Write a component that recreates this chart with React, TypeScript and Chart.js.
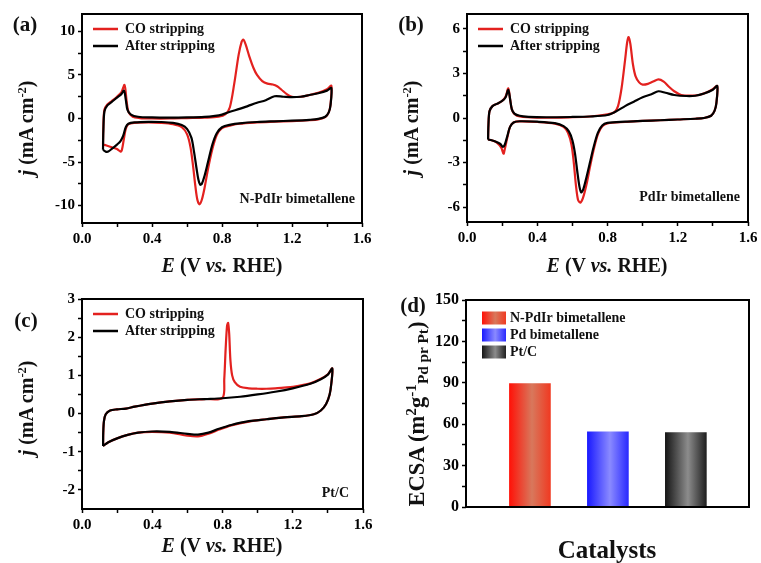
import React, { useEffect, useRef } from 'react';
import { Chart, registerables } from 'chart.js';

Chart.register(...registerables);

type Pt = [number, number];

const FONT = "'Liberation Serif', 'Times New Roman', Times, serif";
const RED = '#e3211f';
const BLACK = '#000000';

const seriesNames = ['CO stripping', 'After stripping'];

// ---------- (a) N-PdIr bimetallene ----------
const aCO: Pt[] = [
  [0.12, -3.0], [0.122, -1.0], [0.128, 1.0], [0.145, 1.6], [0.17, 2.0], [0.2, 2.5], [0.225, 3.0], [0.243, 3.85],
  [0.255, 2.0], [0.265, 0.8], [0.29, 0.2], [0.33, 0.05], [0.4, 0.0], [0.5, 0.0], [0.6, 0.05], [0.7, 0.1],
  [0.78, 0.2], [0.82, 0.5], [0.845, 1.3], [0.87, 4.0], [0.895, 7.3], [0.912, 8.8], [0.922, 9.05], [0.935, 8.5],
  [0.955, 7.2], [0.98, 5.8], [1.0, 5.0], [1.03, 4.3], [1.06, 4.0], [1.09, 3.9], [1.115, 3.7], [1.14, 3.3],
  [1.17, 2.8], [1.2, 2.5], [1.25, 2.5], [1.3, 2.7], [1.35, 2.95], [1.4, 3.35], [1.425, 3.75],
  [1.42, 1.6], [1.41, 0.7], [1.39, 0.15], [1.35, -0.1], [1.3, -0.2], [1.2, -0.3], [1.1, -0.35], [1.0, -0.45],
  [0.9, -0.6], [0.85, -0.8], [0.8, -1.1], [0.77, -1.9], [0.745, -3.5], [0.72, -5.8], [0.7, -8.0], [0.685, -9.3],
  [0.672, -9.85], [0.66, -9.4], [0.648, -7.8], [0.635, -5.5], [0.62, -3.3], [0.6, -1.8], [0.57, -1.0],
  [0.52, -0.65], [0.45, -0.5], [0.38, -0.45], [0.3, -0.5], [0.265, -0.65], [0.25, -1.2], [0.238, -2.5],
  [0.228, -3.6], [0.22, -3.8], [0.2, -3.5], [0.17, -3.3], [0.14, -3.1], [0.12, -3.0],
];
const aAfter: Pt[] = [
  [0.12, -3.6], [0.122, -1.5], [0.128, 0.8], [0.145, 1.5], [0.17, 1.9], [0.2, 2.4], [0.225, 2.8], [0.24, 3.2],
  [0.25, 2.2], [0.26, 1.0], [0.28, 0.45], [0.32, 0.2], [0.4, 0.12], [0.5, 0.1], [0.6, 0.12], [0.7, 0.18],
  [0.76, 0.3], [0.8, 0.45], [0.85, 0.8], [0.9, 1.1], [0.95, 1.45], [1.0, 1.8], [1.05, 2.1], [1.1, 2.55],
  [1.15, 2.5], [1.2, 2.45], [1.25, 2.5], [1.3, 2.7], [1.35, 2.9], [1.4, 3.2], [1.425, 3.5],
  [1.42, 1.5], [1.41, 0.7], [1.39, 0.2], [1.35, -0.05], [1.3, -0.15], [1.2, -0.25], [1.1, -0.32], [1.0, -0.4],
  [0.9, -0.55], [0.85, -0.7], [0.8, -1.0], [0.77, -1.7], [0.745, -3.0], [0.72, -5.0], [0.7, -6.6], [0.685, -7.5],
  [0.675, -7.6], [0.665, -7.0], [0.655, -5.8], [0.64, -3.8], [0.625, -2.2], [0.6, -1.2], [0.57, -0.75],
  [0.52, -0.5], [0.45, -0.4], [0.38, -0.38], [0.3, -0.45], [0.265, -0.6], [0.25, -1.0], [0.235, -2.0],
  [0.22, -2.6], [0.2, -3.0], [0.175, -3.4], [0.15, -3.8], [0.135, -3.8], [0.12, -3.6],
];

// ---------- (b) PdIr bimetallene ----------
const bCO: Pt[] = [
  [0.12, -1.45], [0.122, -0.5], [0.128, 0.45], [0.145, 0.8], [0.17, 0.95], [0.2, 1.15], [0.22, 1.45], [0.235, 2.0],
  [0.245, 1.3], [0.255, 0.6], [0.27, 0.28], [0.3, 0.1], [0.4, 0.02], [0.6, 0.05], [0.7, 0.1], [0.8, 0.25],
  [0.84, 0.4], [0.86, 0.8], [0.88, 2.0], [0.9, 3.9], [0.912, 5.1], [0.92, 5.45], [0.93, 5.0], [0.945, 3.6],
  [0.96, 2.8], [0.98, 2.4], [1.0, 2.25], [1.03, 2.3], [1.06, 2.45], [1.09, 2.6], [1.12, 2.45], [1.15, 2.1],
  [1.18, 1.8], [1.22, 1.55], [1.27, 1.5], [1.32, 1.55], [1.37, 1.75], [1.4, 1.95], [1.425, 2.15],
  [1.42, 1.0], [1.41, 0.5], [1.39, 0.15], [1.35, 0.0], [1.3, -0.05], [1.2, -0.1], [1.1, -0.15], [1.0, -0.2],
  [0.9, -0.27], [0.8, -0.36], [0.77, -0.55], [0.745, -1.1], [0.72, -2.2], [0.7, -3.3], [0.68, -4.5], [0.66, -5.4],
  [0.645, -5.7], [0.632, -5.5], [0.62, -4.5], [0.608, -3.0], [0.595, -1.8], [0.575, -1.0], [0.55, -0.6],
  [0.5, -0.38], [0.4, -0.27], [0.3, -0.23], [0.265, -0.3], [0.245, -0.6], [0.23, -1.3], [0.215, -2.1],
  [0.208, -2.4], [0.195, -2.0], [0.17, -1.65], [0.14, -1.5], [0.12, -1.45],
];
const bAfter: Pt[] = [
  [0.12, -1.45], [0.122, -0.5], [0.128, 0.45], [0.145, 0.8], [0.17, 0.95], [0.2, 1.15], [0.22, 1.4], [0.235, 1.9],
  [0.245, 1.3], [0.255, 0.6], [0.27, 0.3], [0.3, 0.15], [0.35, 0.08], [0.45, 0.05], [0.6, 0.07], [0.7, 0.1],
  [0.8, 0.2], [0.85, 0.45], [0.9, 0.8], [0.95, 1.1], [1.0, 1.4], [1.05, 1.6], [1.09, 1.8], [1.13, 1.7],
  [1.18, 1.55], [1.25, 1.48], [1.3, 1.5], [1.35, 1.65], [1.4, 1.9], [1.425, 2.15],
  [1.42, 1.0], [1.41, 0.5], [1.39, 0.15], [1.35, 0.0], [1.3, -0.05], [1.2, -0.1], [1.1, -0.15], [1.0, -0.2],
  [0.9, -0.25], [0.8, -0.33], [0.77, -0.5], [0.745, -1.0], [0.72, -2.0], [0.7, -3.0], [0.68, -4.0], [0.662, -4.8],
  [0.65, -5.0], [0.64, -4.6], [0.628, -3.6], [0.615, -2.4], [0.6, -1.5], [0.58, -0.9], [0.55, -0.55],
  [0.5, -0.35], [0.4, -0.25], [0.3, -0.22], [0.265, -0.3], [0.245, -0.6], [0.23, -1.2], [0.215, -1.8],
  [0.205, -1.95], [0.19, -1.75], [0.165, -1.6], [0.14, -1.5], [0.12, -1.45],
];

// ---------- (c) Pt/C ----------
const cCO: Pt[] = [
  [0.12, -0.85], [0.121, -0.5], [0.125, -0.2], [0.135, -0.02], [0.16, 0.08], [0.2, 0.11], [0.25, 0.13],
  [0.3, 0.18], [0.4, 0.26], [0.5, 0.32], [0.6, 0.36], [0.7, 0.38], [0.8, 0.41], [0.81, 0.9], [0.818, 1.7],
  [0.826, 2.3], [0.832, 2.37], [0.838, 2.1], [0.845, 1.4], [0.855, 1.0], [0.87, 0.82], [0.9, 0.7], [0.95, 0.66],
  [1.0, 0.65], [1.05, 0.65], [1.1, 0.66], [1.15, 0.68], [1.2, 0.7], [1.3, 0.79], [1.36, 0.91], [1.4, 1.03],
  [1.425, 1.18],
  [1.42, 0.8], [1.41, 0.5], [1.39, 0.25], [1.36, 0.08], [1.32, -0.02], [1.25, -0.07], [1.15, -0.1],
  [1.05, -0.15], [0.95, -0.21], [0.85, -0.31], [0.78, -0.42], [0.72, -0.53], [0.66, -0.6], [0.6, -0.58],
  [0.5, -0.5], [0.4, -0.48], [0.32, -0.5], [0.26, -0.56], [0.2, -0.65], [0.15, -0.75], [0.12, -0.85],
];
const cAfter: Pt[] = [
  [0.12, -0.85], [0.121, -0.5], [0.125, -0.2], [0.135, -0.02], [0.16, 0.08], [0.2, 0.11], [0.25, 0.13],
  [0.3, 0.18], [0.4, 0.26], [0.5, 0.32], [0.6, 0.36], [0.7, 0.38], [0.8, 0.4], [0.9, 0.44], [1.0, 0.5],
  [1.1, 0.57], [1.2, 0.66], [1.3, 0.78], [1.36, 0.9], [1.4, 1.02], [1.425, 1.18],
  [1.42, 0.8], [1.41, 0.5], [1.39, 0.25], [1.36, 0.08], [1.32, -0.02], [1.25, -0.07], [1.15, -0.1],
  [1.05, -0.15], [0.95, -0.2], [0.85, -0.3], [0.78, -0.4], [0.72, -0.5], [0.66, -0.55], [0.6, -0.53],
  [0.5, -0.48], [0.4, -0.47], [0.32, -0.5], [0.26, -0.56], [0.2, -0.65], [0.15, -0.75], [0.12, -0.85],
];

// ---------- ticks ----------
const xTickValues = [0, 0.2, 0.4, 0.6, 0.8, 1.0, 1.2, 1.4, 1.6];
const xTickLabels = [0, 0.4, 0.8, 1.2, 1.6];
const aYTickValues = [-10, -7.5, -5, -2.5, 0, 2.5, 5, 7.5, 10];
const aYTickLabels = [-10, -5, 0, 5, 10];
const bYTickValues = [-6, -4.5, -3, -1.5, 0, 1.5, 3, 4.5, 6];
const bYTickLabels = [-6, -3, 0, 3, 6];
const cYTickValues = [-2, -1.5, -1, -0.5, 0, 0.5, 1, 1.5, 2, 2.5, 3];
const cYTickLabels = [-2, -1, 0, 1, 2, 3];
const dYTickValues = [0, 15, 30, 45, 60, 75, 90, 105, 120, 135, 150];
const dYTickLabels = [0, 30, 60, 90, 120, 150];

// ---------- (d) ECSA ----------
const catalysts = ['N-PdIr bimetallene', 'Pd bimetallene', 'Pt/C'];
const catPositions = [1, 2, 3];
const ecsaValues = [89.5, 54.5, 54];
const barStops: [number, string][][] = [
  [[0, '#ff1208'], [0.55, '#d8785c'], [1, '#f03a22']],
  [[0, '#1a1aff'], [0.55, '#8a8aff'], [1, '#2a2aff']],
  [[0, '#161616'], [0.55, '#8c8c8c'], [1, '#202020']],
];
const barFallback = ['#e8402a', '#5050ff', '#505050'];

const decorPlugin = {
  id: 'decor',
  afterDraw(chart: any, _args: any, o: any) {
    const { ctx, chartArea: a } = chart;
    if (!a) return;
    ctx.save();
    ctx.font = `bold ${o.fontSize || 14}px ${FONT}`;
    ctx.textBaseline = 'middle';
    ctx.textAlign = 'left';
    (o.items || []).forEach((it: any, i: number) => {
      const y = a.top + o.y0 + i * o.dy;
      if (it.stops) {
        const x0 = a.left + o.lx0;
        const w = o.lx1 - o.lx0;
        const h = 13;
        const g = ctx.createLinearGradient(x0, 0, x0 + w, 0);
        it.stops.forEach((s: [number, string]) => g.addColorStop(s[0], s[1]));
        ctx.fillStyle = g;
        ctx.fillRect(x0, y - h / 2, w, h);
      } else {
        ctx.strokeStyle = it.color;
        ctx.lineWidth = 2.5;
        ctx.beginPath();
        ctx.moveTo(a.left + o.lx0, y);
        ctx.lineTo(a.left + o.lx1, y);
        ctx.stroke();
      }
      ctx.fillStyle = '#111';
      ctx.fillText(it.text, a.left + o.tx, y);
    });
    if (o.note) {
      ctx.fillStyle = '#111';
      ctx.textAlign = 'right';
      ctx.fillText(o.note, a.right - o.noteDx, a.bottom - o.noteDy);
    }
    ctx.strokeStyle = '#000';
    ctx.lineWidth = 2;
    ctx.strokeRect(a.left, a.top, a.right - a.left, a.bottom - a.top);
    ctx.restore();
  },
};

const tickFont = (size: number) => ({ family: FONT, size, weight: 'bold' as const });
const gridOpts = {
  display: true,
  drawOnChartArea: false,
  drawTicks: true,
  tickLength: 4,
  tickWidth: 1.5,
  tickColor: '#000',
};

interface CvParams {
  co: Pt[];
  after: Pt[];
  yMin: number;
  yMax: number;
  yTicks: number[];
  yLabels: number[];
  pad: { left: number; top: number; right: number; bottom: number };
  yW: number;
  xH: number;
  note: string;
  noteDx: number;
  noteDy: number;
}

function makeCv(canvas: HTMLCanvasElement, p: CvParams) {
  return new Chart(canvas, {
    type: 'scatter',
    data: {
      datasets: [
        {
          label: seriesNames[0],
          data: p.co.map(([x, y]) => ({ x, y })),
          showLine: true,
          borderColor: RED,
          backgroundColor: RED,
          borderWidth: 2.2,
          pointRadius: 0,
          tension: 0.3,
          order: 2,
        },
        {
          label: seriesNames[1],
          data: p.after.map(([x, y]) => ({ x, y })),
          showLine: true,
          borderColor: BLACK,
          backgroundColor: BLACK,
          borderWidth: 2.2,
          pointRadius: 0,
          tension: 0.3,
          order: 1,
        },
      ],
    },
    options: {
      responsive: false,
      animation: false,
      layout: { padding: p.pad },
      plugins: {
        legend: { display: false },
        tooltip: { enabled: false },
        decor: {
          items: [
            { text: seriesNames[0], color: RED },
            { text: seriesNames[1], color: BLACK },
          ],
          y0: 15,
          dy: 17,
          lx0: 11,
          lx1: 36,
          tx: 43,
          note: p.note,
          noteDx: p.noteDx,
          noteDy: p.noteDy,
        },
      },
      scales: {
        x: {
          type: 'linear',
          min: 0,
          max: 1.6,
          bounds: 'data',
          afterBuildTicks: (s: any) => {
            s.ticks = xTickValues.map((v) => ({ value: v }));
          },
          afterFit: (s: any) => {
            s.height = p.xH;
          },
          ticks: {
            font: tickFont(15),
            color: '#000',
            padding: 3,
            maxRotation: 0,
            autoSkip: false,
            callback: (v: any) => (xTickLabels.includes(v) ? Number(v).toFixed(1) : ''),
          },
          grid: gridOpts,
          border: { display: false },
        },
        y: {
          type: 'linear',
          min: p.yMin,
          max: p.yMax,
          bounds: 'data',
          afterBuildTicks: (s: any) => {
            s.ticks = p.yTicks.map((v) => ({ value: v }));
          },
          afterFit: (s: any) => {
            s.width = p.yW;
          },
          ticks: {
            font: tickFont(15),
            color: '#000',
            padding: 3,
            autoSkip: false,
            callback: (v: any) => (p.yLabels.includes(v) ? String(v) : ''),
          },
          grid: gridOpts,
          border: { display: false },
        },
      },
    },
    plugins: [decorPlugin],
  } as any);
}

function makeBar(canvas: HTMLCanvasElement) {
  const halfW = 20.5;
  return new Chart(canvas, {
    type: 'bar',
    data: {
      datasets: [
        {
          label: 'ECSA',
          data: catPositions.map((x, i) => ({ x, y: ecsaValues[i] })),
          barThickness: 41,
          backgroundColor: (c: any) => {
            const i = c.dataIndex;
            if (typeof i !== 'number') return barFallback[0];
            const chart = c.chart;
            const xs = chart.scales && chart.scales.x;
            if (!xs) return barFallback[i];
            const cx = xs.getPixelForValue(catPositions[i]);
            if (!Number.isFinite(cx)) return barFallback[i];
            const g = chart.ctx.createLinearGradient(cx - halfW, 0, cx + halfW, 0);
            barStops[i].forEach((s) => g.addColorStop(s[0], s[1]));
            return g;
          },
          borderWidth: 0,
        },
      ],
    },
    options: {
      responsive: false,
      animation: false,
      layout: { padding: { left: 0, top: 20, right: 12, bottom: 0 } },
      plugins: {
        legend: { display: false },
        tooltip: { enabled: false },
        decor: {
          items: catalysts.map((t, i) => ({ text: t, stops: barStops[i] })),
          y0: 18,
          dy: 17,
          lx0: 16,
          lx1: 40,
          tx: 44,
          note: '',
        },
      },
      scales: {
        x: {
          type: 'linear',
          min: 0.18,
          max: 3.81,
          bounds: 'data',
          offset: false,
          afterFit: (s: any) => {
            s.height = 56;
          },
          ticks: { display: false },
          grid: { display: false, drawTicks: false, offset: false },
          border: { display: false },
        },
        y: {
          type: 'linear',
          min: 0,
          max: 150,
          bounds: 'data',
          afterBuildTicks: (s: any) => {
            s.ticks = dYTickValues.map((v) => ({ value: v }));
          },
          afterFit: (s: any) => {
            s.width = 86;
          },
          ticks: {
            font: tickFont(16),
            color: '#000',
            padding: 3,
            autoSkip: false,
            callback: (v: any) => (dYTickLabels.includes(v) ? String(v) : ''),
          },
          grid: gridOpts,
          border: { display: false },
        },
      },
    },
    plugins: [decorPlugin],
  } as any);
}

function CvPanel({ left, top, width, height, params }: { left: number; top: number; width: number; height: number; params: CvParams }) {
  const ref = useRef<HTMLCanvasElement>(null);
  useEffect(() => {
    const chart = makeCv(ref.current as HTMLCanvasElement, params);
    return () => chart.destroy();
  }, []);
  return <canvas ref={ref} width={width} height={height} style={{ position: 'absolute', left, top, width, height }} />;
}

function BarPanel({ left, top, width, height }: { left: number; top: number; width: number; height: number }) {
  const ref = useRef<HTMLCanvasElement>(null);
  useEffect(() => {
    const chart = makeBar(ref.current as HTMLCanvasElement);
    return () => chart.destroy();
  }, []);
  return <canvas ref={ref} width={width} height={height} style={{ position: 'absolute', left, top, width, height }} />;
}

function Label({ x, y, size, rotate, children }: { x: number; y: number; size: number; rotate?: boolean; children: React.ReactNode }) {
  return (
    <div
      style={{
        position: 'absolute',
        left: x,
        top: y,
        transform: `translate(-50%, -50%)${rotate ? ' rotate(-90deg)' : ''}`,
        fontFamily: FONT,
        fontWeight: 'bold',
        fontSize: size,
        lineHeight: 1,
        whiteSpace: 'nowrap',
        color: '#111',
      }}
    >
      {children}
    </div>
  );
}

const supStyle: React.CSSProperties = { fontSize: '0.62em', verticalAlign: '0.55em', lineHeight: 0 };
const supStyleD: React.CSSProperties = { fontSize: '0.68em', verticalAlign: '0.5em', lineHeight: 0 };
const subStyleD: React.CSSProperties = { fontSize: '0.68em', verticalAlign: '-0.28em', lineHeight: 0 };

const XTitle = () => (
  <>
    <i>E</i> (V <i>vs.</i> RHE)
  </>
);
const YTitle = () => (
  <>
    <i>j</i> (mA cm<span style={supStyle}>-2</span>)
  </>
);

export default function App() {
  return (
    <div style={{ position: 'fixed', left: 0, top: 0, width: 761, height: 563, background: '#fff', overflow: 'hidden' }}>
      <CvPanel
        left={0}
        top={0}
        width={380}
        height={280}
        params={{
          co: aCO, after: aAfter, yMin: -12, yMax: 12, yTicks: aYTickValues, yLabels: aYTickLabels,
          pad: { left: 0, top: 14, right: 18, bottom: 0 }, yW: 82, xH: 57,
          note: 'N-PdIr bimetallene', noteDx: 7, noteDy: 24,
        }}
      />
      <CvPanel
        left={380}
        top={0}
        width={381}
        height={280}
        params={{
          co: bCO, after: bAfter, yMin: -7, yMax: 7, yTicks: bYTickValues, yLabels: bYTickLabels,
          pad: { left: 0, top: 14, right: 13, bottom: 0 }, yW: 87, xH: 58,
          note: 'PdIr bimetallene', noteDx: 8, noteDy: 25,
        }}
      />
      <CvPanel
        left={0}
        top={280}
        width={380}
        height={283}
        params={{
          co: cCO, after: cAfter, yMin: -2.5, yMax: 3, yTicks: cYTickValues, yLabels: cYTickLabels,
          pad: { left: 0, top: 19, right: 17, bottom: 0 }, yW: 82, xH: 54,
          note: 'Pt/C', noteDx: 14, noteDy: 16,
        }}
      />
      <BarPanel left={380} top={280} width={381} height={283} />

      <Label x={25} y={24} size={21}>(a)</Label>
      <Label x={411} y={24} size={21}>(b)</Label>
      <Label x={26} y={320} size={21}>(c)</Label>
      <Label x={413} y={305} size={21}>(d)</Label>

      <Label x={222} y={265} size={20}><XTitle /></Label>
      <Label x={607} y={265} size={20}><XTitle /></Label>
      <Label x={222} y={545} size={20}><XTitle /></Label>
      <Label x={607} y={549} size={25}>Catalysts</Label>

      <Label x={26} y={128} size={20} rotate><YTitle /></Label>
      <Label x={411} y={128} size={20} rotate><YTitle /></Label>
      <Label x={26} y={408} size={20} rotate><YTitle /></Label>
      <Label x={417} y={414} size={22.5} rotate>
        ECSA (m<span style={supStyleD}>2</span>g<span style={supStyleD}>-1</span>
        <span style={subStyleD}>Pd pr Pt</span>)
      </Label>
    </div>
  );
}
